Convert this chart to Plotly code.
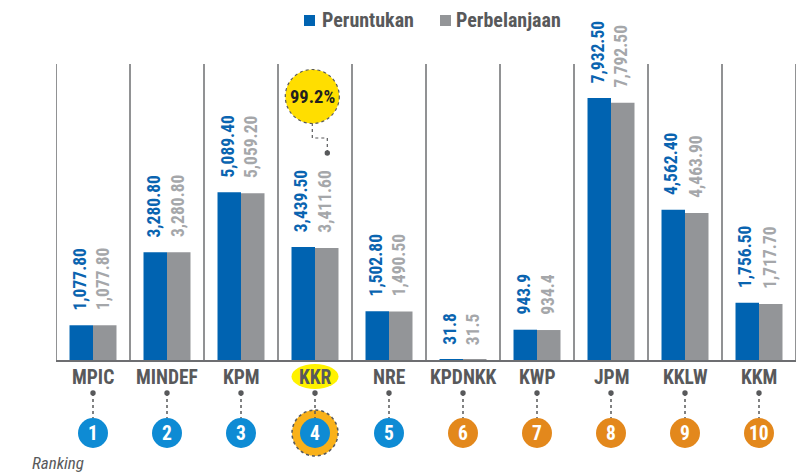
import plotly.graph_objects as go

categories = ["MPIC", "MINDEF", "KPM", "KKR", "NRE", "KPDNKK", "KWP", "JPM", "KKLW", "KKM"]
peruntukan = [1077.80, 3280.80, 5089.40, 3439.50, 1502.80, 31.8, 943.9, 7932.50, 4562.40, 1756.50]
perbelanjaan = [1077.80, 3280.80, 5059.20, 3411.60, 1490.50, 31.5, 934.4, 7792.50, 4463.90, 1717.70]
peruntukan_labels = ["1,077.80", "3,280.80", "5,089.40", "3,439.50", "1,502.80", "31.8", "943.9", "7,932.50", "4,562.40", "1,756.50"]
perbelanjaan_labels = ["1,077.80", "3,280.80", "5,059.20", "3,411.60", "1,490.50", "31.5", "934.4", "7,792.50", "4,463.90", "1,717.70"]
rankings = ["1", "2", "3", "4", "5", "6", "7", "8", "9", "10"]
series_names = ["Peruntukan", "Perbelanjaan"]
highlight = "KKR"
highlight_pct = "99.2%"

FONT = "Roboto Condensed, Liberation Sans Narrow, DejaVu Sans Condensed, Arial Narrow, sans-serif"
BLUE = "#0063b1"
GREY = "#939598"
BLUE_LBL = "#0a64b0"
GREY_LBL = "#a5a7aa"
DARK = "#58595b"
LINE = "#6d6e71"
RANK_BLUE = "#0e8bd4"
RANK_ORANGE = "#e3881c"

W, H = 811, 475
ML, MR, MT, MB = 56, 15, 64, 114
PW, PH = W - ML - MR, H - MT - MB


def px_x(px):
    return (px - ML) / PW


def px_y(py):
    return (H - MB - py) / PH


fig = go.Figure()
fig.add_trace(go.Bar(name=series_names[0], x=categories, y=peruntukan, marker_color=BLUE, marker_line_width=0))
fig.add_trace(go.Bar(name=series_names[1], x=categories, y=perbelanjaan, marker_color=GREY, marker_line_width=0))

shapes = []
annotations = []
n = len(categories)
# vertical separators
for i in range(n + 1):
    shapes.append(dict(type="line", xref="x", yref="paper", x0=i - 0.5, x1=i - 0.5, y0=0, y1=1,
                       line=dict(color=LINE, width=1.5), layer="below"))
# baseline
shapes.append(dict(type="line", xref="paper", yref="paper", x0=0, x1=1, y0=0, y1=0,
                   line=dict(color=LINE, width=2), layer="above"))

half = 11.75
for i, c in enumerate(categories):
    annotations.append(dict(x=c, y=peruntukan[i], xref="x", yref="y", text=peruntukan_labels[i], textangle=-90,
                            showarrow=False, xshift=-half - 1.5, yshift=13, yanchor="bottom", xanchor="center",
                            font=dict(family=FONT, size=17.5, color=BLUE_LBL, weight="bold")))
    annotations.append(dict(x=c, y=perbelanjaan[i], xref="x", yref="y", text=perbelanjaan_labels[i], textangle=-90,
                            showarrow=False, xshift=half - 1.5, yshift=13, yanchor="bottom", xanchor="center",
                            font=dict(family=FONT, size=17.5, color=GREY_LBL, weight="bold")))
    # category label
    if c == highlight:
        shapes.append(dict(type="circle", xref="x", yref="paper", xsizemode="pixel", ysizemode="pixel",
                           xanchor=c, yanchor=0, x0=-23.5, x1=23.5, y0=-28, y1=-3,
                           fillcolor="#fff200", line=dict(width=0), layer="above"))
    annotations.append(dict(x=c, y=0, xref="x", yref="paper", text=c, showarrow=False, yshift=-16,
                            yanchor="middle", font=dict(family=FONT, size=19.5, color=DARK, weight="bold")))
    # ranking ring for highlight
    if c == highlight:
        shapes.append(dict(type="circle", xref="x", yref="paper", xsizemode="pixel", ysizemode="pixel",
                           xanchor=c, yanchor=0, x0=-23, x1=23, y0=-95, y1=-49,
                           fillcolor="#f9b11a", line=dict(width=1.5, color=DARK, dash="dot"), layer="above"))
    # connector
    shapes.append(dict(type="line", xref="x", yref="paper", xsizemode="pixel", ysizemode="pixel",
                       xanchor=c, yanchor=0, x0=0, x1=0, y0=-32, y1=-57,
                       line=dict(color=DARK, width=1.5, dash="dot"), layer="above"))
    shapes.append(dict(type="circle", xref="x", yref="paper", xsizemode="pixel", ysizemode="pixel",
                       xanchor=c, yanchor=0, x0=-2.7, x1=2.7, y0=-34.7, y1=-29.3,
                       fillcolor=DARK, line=dict(width=0), layer="above"))
    col = RANK_BLUE if i < 5 else RANK_ORANGE
    shapes.append(dict(type="circle", xref="x", yref="paper", xsizemode="pixel", ysizemode="pixel",
                       xanchor=c, yanchor=0, x0=-15, x1=15, y0=-87, y1=-57,
                       fillcolor=col, line=dict(width=0), layer="above"))
    annotations.append(dict(x=c, y=0, xref="x", yref="paper", text=rankings[i], showarrow=False, yshift=-72,
                            yanchor="middle", font=dict(family=FONT, size=19.5, color="white", weight="bold")))

# highlight percentage callout
shapes.append(dict(type="path", xref="x", yref="paper", xsizemode="pixel", ysizemode="pixel",
                   xanchor=highlight, yanchor=1, path="M-2.7,-59 L-2.7,-74 L12.3,-74 L12.3,-89",
                   line=dict(color=DARK, width=1.2, dash="dot"), layer="above"))
shapes.append(dict(type="circle", xref="x", yref="paper", xsizemode="pixel", ysizemode="pixel",
                   xanchor=highlight, yanchor=1, x0=9.6, x1=15, y0=-91.7, y1=-86.3,
                   fillcolor=DARK, line=dict(width=0), layer="above"))
shapes.append(dict(type="circle", xref="x", yref="paper", xsizemode="pixel", ysizemode="pixel",
                   xanchor=highlight, yanchor=1, x0=-29.7, x1=24.3, y0=-59.5, y1=-5.5,
                   fillcolor="#ffde00", line=dict(width=1.2, color=DARK, dash="dot"), layer="above"))
annotations.append(dict(x=highlight, y=1, xref="x", yref="paper", text=highlight_pct, showarrow=False,
                        xshift=-2.7, yshift=-32.5, yanchor="middle",
                        font=dict(family=FONT, size=18.5, color="#231f20", weight="bold")))

annotations.append(dict(x=px_x(30), y=px_y(463), xref="paper", yref="paper", text="Ranking", showarrow=False,
                        xanchor="left", yanchor="middle",
                        font=dict(family=FONT, size=17, color=DARK, style="italic")))

# manual legend (squares + names of the two bar series)
for name, col, sq_left, txt_left in [(series_names[0], BLUE, 304, 322), (series_names[1], GREY, 440, 456)]:
    shapes.append(dict(type="rect", xref="paper", yref="paper", x0=px_x(sq_left), x1=px_x(sq_left + 11),
                       y0=px_y(26), y1=px_y(15), fillcolor=col, line=dict(width=0), layer="above"))
    annotations.append(dict(x=px_x(txt_left), y=px_y(20), xref="paper", yref="paper", text=name,
                            showarrow=False, xanchor="left", yanchor="middle", xshift=-2,
                            font=dict(family=FONT, size=20, color=DARK, weight="bold")))

fig.update_layout(
    width=W, height=H,
    margin=dict(l=ML, r=MR, t=MT, b=MB, pad=0, autoexpand=False),
    barmode="group", bargap=0.365, bargroupgap=0,
    plot_bgcolor="white", paper_bgcolor="white",
    showlegend=False,
    hovermode=False,
    xaxis=dict(range=[-0.5, n - 0.5], showticklabels=False, showgrid=False, zeroline=False, showline=False,
               fixedrange=True),
    yaxis=dict(range=[0, 8960], visible=False, fixedrange=True),
    shapes=shapes,
    annotations=annotations,
)

fig.write_html("out.html", config={"displayModeBar": False},
               post_script="document.body.style.margin='0px';")
